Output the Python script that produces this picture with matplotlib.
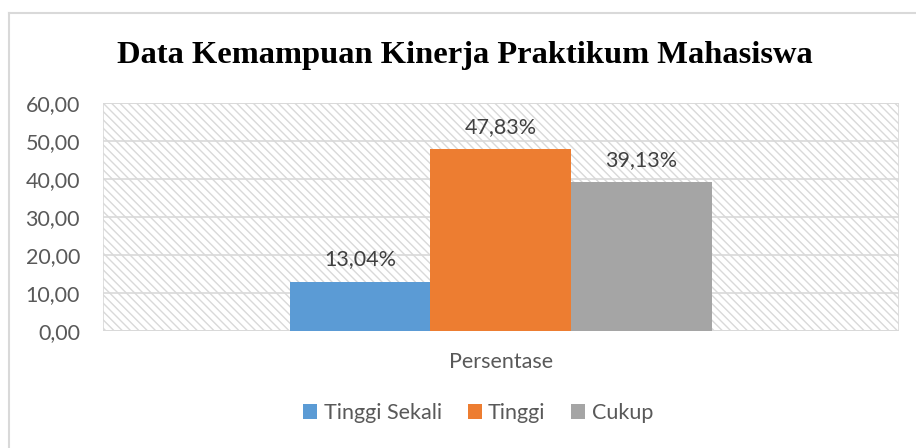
import numpy as np
import matplotlib.pyplot as plt
from matplotlib.lines import Line2D

categories = ['Persentase']
series = ['Tinggi Sekali', 'Tinggi', 'Cukup']
values = [13.04, 47.83, 39.13]
colors = ['#5B9BD5', '#ED7D31', '#A5A5A5']
yticks = [0, 10, 20, 30, 40, 50, 60]

plt.rcParams['hatch.color'] = '#D9D9D9'
plt.rcParams['hatch.linewidth'] = 1.0
plt.rcParams['font.family'] = ['Lato', 'DejaVu Sans']

fig = plt.figure(figsize=(9.16, 4.48), dpi=100)
ax = fig.add_axes([0.1124, 0.261, 0.8686, 0.509])

# hatched plot area
ax.add_patch(plt.Rectangle((0, 0), 1, 1, transform=ax.transAxes, facecolor='white',
                           edgecolor='#D9D9D9', hatch='\\\\\\\\', lw=1.2, zorder=0))

x = np.arange(len(categories))
w = 0.177
for i, (s, v, c) in enumerate(zip(series, values, colors)):
    pos = x + (i - 1) * w
    ax.bar(pos, [v], width=w, color=c, label=s, zorder=3)
    ax.text(pos[0], v + 3.2, f'{v:.2f}'.replace('.', ',') + '%', ha='center', va='bottom',
            fontsize=15.5, color='#404040', zorder=4)

ax.set_xlim(-0.5, 0.5)
ax.set_ylim(0, 60)
ax.set_yticks(yticks)
ax.set_yticklabels([f'{t:.2f}'.replace('.', ',') for t in yticks], fontsize=15.5, color='#595959')
ax.set_xticks(x)
ax.set_xticklabels(categories, fontsize=15.5, color='#595959')
ax.tick_params(axis='both', length=0)
ax.tick_params(axis='x', pad=15)
ax.tick_params(axis='y', pad=16.5)
ax.grid(axis='y', color='#D9D9D9', lw=1.2, zorder=1)
for sp in ax.spines.values():
    sp.set_visible(False)
ax.axhline(0, color='#D9D9D9', lw=1.2, zorder=2)

fig.text(0.507, 0.877, 'Data Kemampuan Kinerja Praktikum Mahasiswa', ha='center', va='center',
         fontsize=23.4, fontweight='bold', family='Liberation Serif')

fig.legend(loc='center', bbox_to_anchor=(0.522, 0.078), ncol=3, frameon=False,
           fontsize=15.5, handlelength=0.65, handleheight=0.65, handletextpad=0.3,
           columnspacing=1.2, labelcolor='#595959')

# chart border (top and left visible)
fig.add_artist(Line2D([9 / 916, 9 / 916], [0, 1 - 13 / 448], color='#D9D9D9', lw=1.5))
fig.add_artist(Line2D([9 / 916, 1], [1 - 13 / 448, 1 - 13 / 448], color='#D9D9D9', lw=1.5))

fig.savefig('out.png', dpi=100)
